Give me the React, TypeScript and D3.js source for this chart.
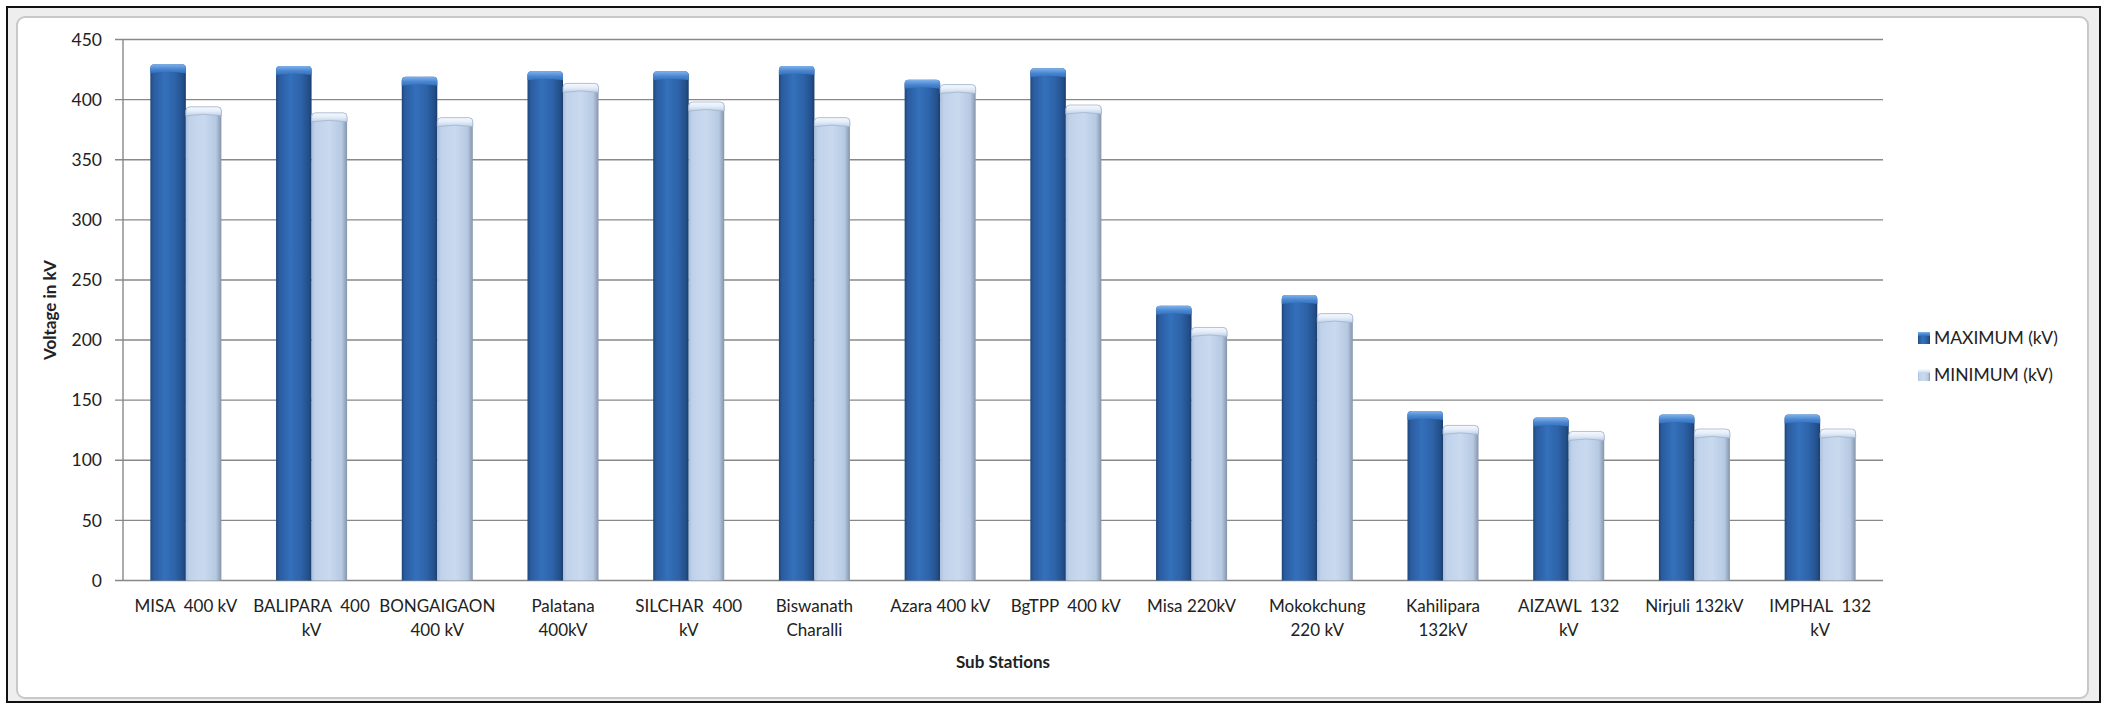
import React from "react";
import * as d3 from "d3";

const categories: string[] = [
  "MISA  400 kV",
  "BALIPARA  400\nkV",
  "BONGAIGAON\n400 kV",
  "Palatana\n400kV",
  "SILCHAR  400\nkV",
  "Biswanath\nCharalli",
  "Azara 400 kV",
  "BgTPP  400 kV",
  "Misa 220kV",
  "Mokokchung\n220 kV",
  "Kahilipara\n132kV",
  "AIZAWL  132\nkV",
  "Nirjuli 132kV",
  "IMPHAL  132\nkV",
];
const maxValues: number[] = [429.5, 428, 419, 423.5, 423.5, 428, 416.5, 426, 228.5, 237.5, 141, 135.5, 138, 138];
const minValues: number[] = [394, 389, 385, 413.5, 398, 385, 412.5, 395.5, 210.5, 222, 129, 124, 126, 126];
const seriesNames: string[] = ["MAXIMUM (kV)", "MINIMUM (kV)"];
const yTicks: number[] = [0, 50, 100, 150, 200, 250, 300, 350, 400, 450];

const W = 2107;
const H = 709;
const FONT = "Lato, 'Open Sans', sans-serif";

export default function App() {
  const x = d3.scaleBand<string>().domain(categories).range([123, 1883]).paddingInner(0).paddingOuter(0);
  const x1 = d3.scaleBand<string>().domain(seriesNames).range([0, x.bandwidth()]).paddingInner(0).paddingOuter(0.77);
  const y = d3.scaleLinear().domain([0, 450]).range([580.5, 39.5]);
  const bw = x1.bandwidth();

  const barPath = (bx: number, top: number, w: number, bottom: number) => {
    const r = 4;
    return `M${bx},${bottom} L${bx},${top + r} Q${bx},${top} ${bx + r},${top} L${bx + w - r},${top} Q${bx + w},${top} ${bx + w},${top + r} L${bx + w},${bottom} Z`;
  };
  const capPath = (bx: number, top: number, w: number) => {
    const h = 9;
    return `M${bx},${top + h} L${bx},${top + 4} Q${bx},${top} ${bx + 4},${top} L${bx + w - 4},${top} Q${bx + w},${top} ${bx + w},${top + 4} L${bx + w},${top + h} Q${bx + w / 2},${top + h - 3} ${bx},${top + h} Z`;
  };

  const series = [
    { name: seriesNames[0], values: maxValues, body: "url(#maxGrad)", cap: "url(#maxCap)", edge: "none" },
    { name: seriesNames[1], values: minValues, body: "url(#minGrad)", cap: "url(#minCap)", edge: "#a3b4cc" },
  ];

  return (
    <svg width={W} height={H} style={{ position: "absolute", left: 0, top: 0, background: "#fff" }}>
      <defs>
        <linearGradient id="maxGrad" x1="0" x2="1" y1="0" y2="0">
          <stop offset="0%" stopColor="#1d4577" />
          <stop offset="8%" stopColor="#2a5b9e" />
          <stop offset="40%" stopColor="#3470bb" />
          <stop offset="70%" stopColor="#2d63a8" />
          <stop offset="92%" stopColor="#234f8a" />
          <stop offset="100%" stopColor="#1a3d6c" />
        </linearGradient>
        <linearGradient id="maxCap" x1="0" x2="0" y1="0" y2="1">
          <stop offset="0%" stopColor="#7fb2ec" />
          <stop offset="55%" stopColor="#4a86d0" />
          <stop offset="100%" stopColor="#3470bb" />
        </linearGradient>
        <linearGradient id="minGrad" x1="0" x2="1" y1="0" y2="0">
          <stop offset="0%" stopColor="#a9bfdc" />
          <stop offset="10%" stopColor="#c0d2ea" />
          <stop offset="50%" stopColor="#c9daef" />
          <stop offset="85%" stopColor="#b6c9e2" />
          <stop offset="100%" stopColor="#8595aa" />
        </linearGradient>
        <linearGradient id="minCap" x1="0" x2="0" y1="0" y2="1">
          <stop offset="0%" stopColor="#f7fafe" />
          <stop offset="50%" stopColor="#e3ecf8" />
          <stop offset="100%" stopColor="#bdd0e9" />
        </linearGradient>
      </defs>

      {/* outer sheet area and frame */}
      <rect x={7} y={7} width={2093} height={695} fill="#eeeeee" stroke="#111" strokeWidth={2} />
      <rect x={17} y={17} width={2071} height={681} rx={8} fill="#ffffff" stroke="#c8c8c8" strokeWidth={2} />

      {/* gridlines and ticks */}
      <g>
        {yTicks.map((t) => (
          <line key={t} x1={115} x2={1883} y1={y(t)} y2={y(t)} stroke="#888" strokeWidth={1.4} />
        ))}
        <line x1={123} x2={123} y1={y(450)} y2={y(0)} stroke="#888" strokeWidth={1.4} />
        {yTicks.map((t) => (
          <text key={"l" + t} x={102} y={y(t)} dy="0.35em" textAnchor="end" fontFamily={FONT} fontSize={17.5} fill="#222">
            {t}
          </text>
        ))}
      </g>

      {/* bars */}
      <g>
        {categories.map((c, i) => (
          <g key={c}>
            {series.map((s) => {
              const bx = (x(c) as number) + (x1(s.name) as number);
              const top = y(s.values[i]);
              return (
                <g key={s.name}>
                  <path d={barPath(bx, top, bw, y(0))} fill={s.body} />
                  <path d={capPath(bx, top, bw)} fill={s.cap} stroke={s.edge} strokeWidth={0.8} />
                </g>
              );
            })}
          </g>
        ))}
      </g>

      {/* category labels */}
      <g>
        {categories.map((c) => {
          const lines = c.split("\n");
          const cx = (x(c) as number) + x.bandwidth() / 2;
          return (
            <text key={c} x={cx} y={612} textAnchor="middle" fontFamily={FONT} fontSize={17} fill="#222">
              {lines.map((l, j) => (
                <tspan key={j} x={cx} dy={j === 0 ? 0 : 24} style={{ whiteSpace: "pre" }}>
                  {l}
                </tspan>
              ))}
            </text>
          );
        })}
      </g>

      {/* axis titles */}
      <text x={1003} y={668} textAnchor="middle" fontFamily={FONT} fontSize={17} fontWeight="bold" fill="#222">
        Sub Stations
      </text>
      <text transform={`translate(56,${(y(0) + y(450)) / 2}) rotate(-90)`} textAnchor="middle" fontFamily={FONT} fontSize={17} fontWeight="bold" fill="#222">
        Voltage in kV
      </text>

      {/* legend */}
      {series.map((s, k) => {
        const ly = 338 + k * 37;
        return (
          <g key={s.name}>
            <rect x={1918} y={ly - 6} width={12} height={12} fill={k === 0 ? "url(#maxGrad)" : "url(#minGrad)"} />
            <rect x={1918} y={ly - 6} width={12} height={4} fill={k === 0 ? "url(#maxCap)" : "url(#minCap)"} />
            <text x={1934} y={ly} dy="0.35em" fontFamily={FONT} fontSize={17.5} fill="#222">
              {s.name}
            </text>
          </g>
        );
      })}
    </svg>
  );
}
